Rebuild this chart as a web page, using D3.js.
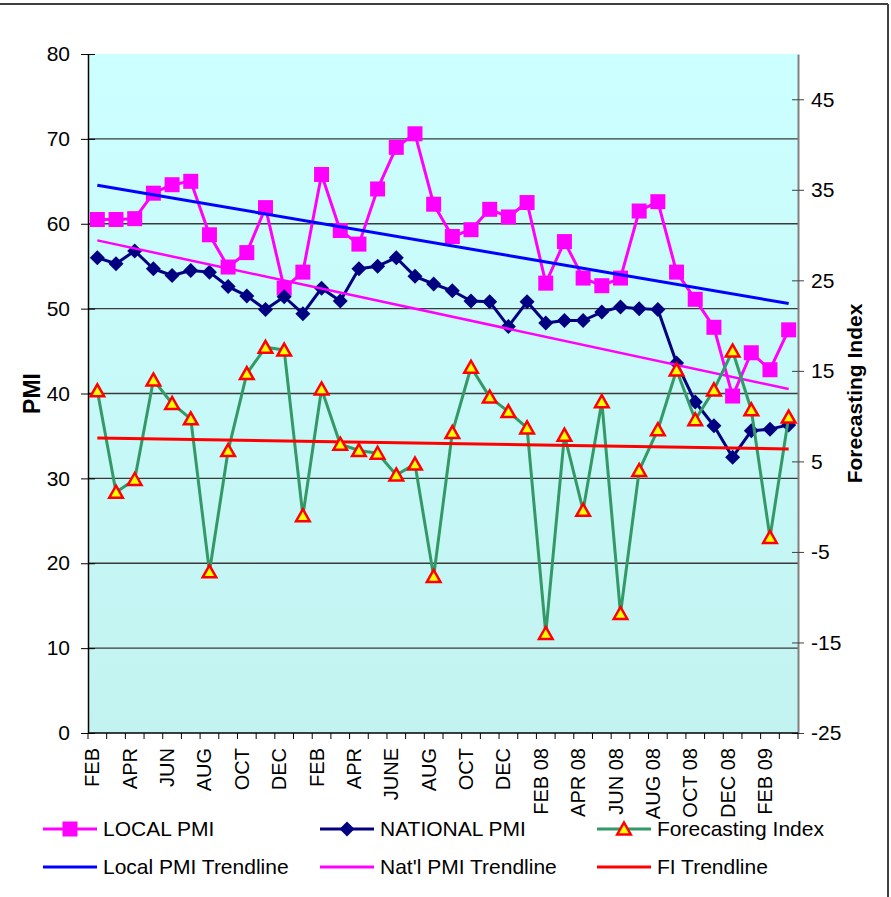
<!DOCTYPE html>
<html>
<head>
<meta charset="utf-8">
<script src="https://cdn.jsdelivr.net/npm/d3@7"></script>
<style>
html,body{margin:0;padding:0;background:#fff;}
svg{display:block;font-family:"Liberation Sans",Arial,sans-serif;}
</style>
</head>
<body>
<svg id="chart" width="891" height="897"></svg>
<script>
// ---------- DATA ----------
const categories = ["FEB","MAR","APR","MAY","JUN","JUL","AUG","SEP","OCT","NOV","DEC","JAN",
  "FEB","MAR","APR","MAY","JUNE","JUL","AUG","SEP","OCT","NOV","DEC","JAN",
  "FEB 08","MAR 08","APR 08","MAY 08","JUN 08","JUL 08","AUG 08","SEP 08","OCT 08","NOV 08","DEC 08","JAN 09",
  "FEB 09","MAR 09"];
const localPMI = [60.5,60.5,60.6,63.6,64.6,65.0,58.7,54.9,56.6,61.9,52.4,54.3,
  65.8,59.2,57.6,64.1,69.0,70.6,62.3,58.5,59.3,61.7,60.8,62.5,
  53.0,57.9,53.6,52.7,53.6,61.5,62.6,54.3,51.1,47.8,39.7,44.8,42.8,47.5];
const nationalPMI = [56.0,55.3,56.8,54.7,53.9,54.5,54.3,52.6,51.5,49.9,51.4,49.4,
  52.4,50.9,54.7,55.0,56.0,53.8,52.9,52.1,50.9,50.8,47.9,50.8,
  48.3,48.6,48.6,49.6,50.2,50.0,49.9,43.6,39.0,36.2,32.5,35.6,35.8,36.3];
const forecastingIndex = [12.8,1.6,3.0,14.0,11.4,9.7,-7.2,6.2,14.7,17.6,17.3,-1.0,
  13.0,6.9,6.2,5.9,3.5,4.7,-7.7,8.2,15.4,12.1,10.5,8.7,
  -14.0,7.9,-0.4,11.6,-11.8,4.0,8.5,15.1,9.6,12.9,17.2,10.7,-3.4,9.9];
const leftTicks = [0,10,20,30,40,50,60,70,80];
const rightTicks = [-25,-15,-5,5,15,25,35,45];

// ---------- LAYOUT ----------
const svg = d3.select("#chart");
const X0 = 88, X1 = 798, Y0 = 54, Y1 = 733;

const x = d3.scaleBand().domain(d3.range(categories.length)).range([X0, X1]);
const cx = i => x(i) + x.bandwidth() / 2;
const yL = d3.scaleLinear().domain([0, 80]).range([Y1, Y0]);
const yR = d3.scaleLinear().domain([-25, 50]).range([Y1, Y0]);

// linear regression (Excel linear trendline)
function trend(vals) {
  const n = vals.length, xs = d3.range(1, n + 1);
  const mx = d3.mean(xs), my = d3.mean(vals);
  let sxy = 0, sxx = 0;
  xs.forEach((xv, k) => { sxy += (xv - mx) * (vals[k] - my); sxx += (xv - mx) * (xv - mx); });
  const b = sxy / sxx, a = my - b * mx;
  return [{i: 0, v: a + b * 1}, {i: n - 1, v: a + b * n}];
}

// frame
svg.append("line").attr("x1", 0).attr("x2", 888).attr("y1", 4).attr("y2", 4)
  .attr("stroke", "#000").attr("stroke-width", 1.5);
svg.append("line").attr("x1", 888).attr("x2", 888).attr("y1", 4).attr("y2", 897)
  .attr("stroke", "#404040").attr("stroke-width", 2);

// plot background
const defs = svg.append("defs");
const grad = defs.append("linearGradient").attr("id", "bg").attr("x1", 0).attr("x2", 0).attr("y1", 0).attr("y2", 1);
grad.append("stop").attr("offset", "0%").attr("stop-color", "#CCFFFF");
grad.append("stop").attr("offset", "100%").attr("stop-color", "#C2F3F1");
svg.append("rect").attr("x", X0).attr("y", Y0).attr("width", X1 - X0).attr("height", Y1 - Y0)
  .attr("fill", "url(#bg)");

// gridlines
svg.append("g").selectAll("line").data(leftTicks.filter(t => t > 0 && t < 80)).join("line")
  .attr("x1", X0).attr("x2", X1).attr("y1", d => yL(d)).attr("y2", d => yL(d))
  .attr("stroke", "#3a3a3a").attr("stroke-width", 1.4);

const fmt = d => String(d);

// left axis
const gL = svg.append("g").attr("transform", `translate(${X0},0)`)
  .call(d3.axisLeft(yL).tickValues(leftTicks).tickFormat(fmt).tickSizeInner(7).tickSizeOuter(0).tickPadding(11));
gL.select(".domain").attr("stroke", "#000").attr("stroke-width", 1.5);
gL.selectAll(".tick line").attr("x1", -7).attr("x2", 7).attr("stroke", "#000");
gL.selectAll(".tick text").attr("font-size", 21).attr("fill", "#000")
  .attr("font-family", "Liberation Sans, Arial, sans-serif");

// right axis
const gR = svg.append("g").attr("transform", `translate(${X1},0)`)
  .call(d3.axisRight(yR).tickValues(rightTicks).tickFormat(fmt).tickSizeInner(6).tickSizeOuter(0).tickPadding(7));
gR.select(".domain").attr("stroke", "#808080").attr("stroke-width", 2);
gR.selectAll(".tick line").attr("x1", -6).attr("x2", 6).attr("stroke", "#404040");
gR.selectAll(".tick text").attr("font-size", 21).attr("fill", "#000")
  .attr("font-family", "Liberation Sans, Arial, sans-serif");

// bottom axis
const gB = svg.append("g").attr("transform", `translate(0,${Y1})`);
gB.append("line").attr("x1", X0).attr("x2", X1).attr("y1", 0).attr("y2", 0)
  .attr("stroke", "#000").attr("stroke-width", 1.5);
const bounds = d3.range(categories.length + 1).map(i => i < categories.length ? x(i) : X1);
gB.selectAll("line.t").data(bounds).join("line").attr("class", "t")
  .attr("x1", d => d).attr("x2", d => d).attr("y1", 0).attr("y2", 6)
  .attr("stroke", "#000").attr("stroke-width", 1);
gB.selectAll("text").data(categories.map((c, i) => ({c, i})).filter(d => d.i % 2 === 0)).join("text")
  .attr("transform", d => `translate(${cx(d.i) - 5},15) rotate(-90)`)
  .attr("text-anchor", "end").attr("dy", "0.35em")
  .attr("font-size", 20).attr("fill", "#000").text(d => d.c);

// axis titles
svg.append("text").attr("transform", `translate(32,${(Y0 + Y1) / 2}) rotate(-90)`)
  .attr("text-anchor", "middle").attr("dy", "0.35em").attr("font-size", 23).attr("font-weight", "bold")
  .text("PMI");
svg.append("text").attr("transform", `translate(855,${(Y0 + Y1) / 2}) rotate(-90)`)
  .attr("text-anchor", "middle").attr("dy", "0.35em").attr("font-size", 21).attr("font-weight", "bold")
  .text("Forecasting Index");

// markers
const sqPath = "M-7.5,-7.5H7.5V7.5H-7.5Z";
const diaPath = "M0,-7.5L7.5,0L0,7.5L-7.5,0Z";
const triPath = "M0,-6.5L6.8,5.5L-6.8,5.5Z";

const line = (yS) => d3.line().x((d, i) => cx(i)).y(d => yS(d));

// Local PMI
svg.append("path").datum(localPMI).attr("d", line(yL)).attr("fill", "none")
  .attr("stroke", "#FF00FF").attr("stroke-width", 3).attr("stroke-linejoin", "round");
svg.append("g").selectAll("path").data(localPMI).join("path")
  .attr("d", sqPath).attr("transform", (d, i) => `translate(${cx(i)},${yL(d)})`).attr("fill", "#FF00FF");

// National PMI
svg.append("path").datum(nationalPMI).attr("d", line(yL)).attr("fill", "none")
  .attr("stroke", "#000080").attr("stroke-width", 3).attr("stroke-linejoin", "round");
svg.append("g").selectAll("path").data(nationalPMI).join("path")
  .attr("d", diaPath).attr("transform", (d, i) => `translate(${cx(i)},${yL(d)})`).attr("fill", "#000080");

// trendlines (primary)
svg.append("path").datum(trend(localPMI)).attr("d", d3.line().x(d => cx(d.i)).y(d => yL(d.v))).attr("fill", "none")
  .attr("stroke", "#0000FF").attr("stroke-width", 3);
svg.append("path").datum(trend(nationalPMI)).attr("d", d3.line().x(d => cx(d.i)).y(d => yL(d.v))).attr("fill", "none")
  .attr("stroke", "#FF00FF").attr("stroke-width", 2.5);

// FI
svg.append("path").datum(forecastingIndex).attr("d", line(yR)).attr("fill", "none")
  .attr("stroke", "#339966").attr("stroke-width", 3).attr("stroke-linejoin", "round");
svg.append("path").datum(trend(forecastingIndex)).attr("d", d3.line().x(d => cx(d.i)).y(d => yR(d.v))).attr("fill", "none")
  .attr("stroke", "#FF0000").attr("stroke-width", 3);
svg.append("g").selectAll("path").data(forecastingIndex).join("path")
  .attr("d", triPath).attr("transform", (d, i) => `translate(${cx(i)},${yR(d)})`)
  .attr("fill", "#FFFF00").attr("stroke", "#FF0000").attr("stroke-width", 2.5).attr("stroke-linejoin", "miter");

// legend
const legendItems = [
  {label: "LOCAL PMI", color: "#FF00FF", w: 3, marker: sqPath, fill: "#FF00FF", col: 0, row: 0},
  {label: "NATIONAL PMI", color: "#000080", w: 3, marker: diaPath, fill: "#000080", col: 1, row: 0},
  {label: "Forecasting Index", color: "#339966", w: 3, marker: triPath, fill: "#FFFF00", stroke: "#FF0000", col: 2, row: 0},
  {label: "Local PMI Trendline", color: "#0000FF", w: 3, col: 0, row: 1},
  {label: "Nat'l PMI Trendline", color: "#FF00FF", w: 3, col: 1, row: 1},
  {label: "FI Trendline", color: "#FF0000", w: 3, col: 2, row: 1}
];
const colX = [43, 320, 597], rowY = [829, 867];
const lg = svg.append("g").selectAll("g").data(legendItems).join("g")
  .attr("transform", d => `translate(${colX[d.col]},${rowY[d.row]})`);
lg.append("line").attr("x1", 0).attr("x2", 54).attr("y1", 0).attr("y2", 0)
  .attr("stroke", d => d.color).attr("stroke-width", d => d.w);
lg.filter(d => d.marker).append("path").attr("d", d => d.marker).attr("transform", "translate(27,0)")
  .attr("fill", d => d.fill).attr("stroke", d => d.stroke || "none").attr("stroke-width", 2.5);
lg.append("text").attr("x", 60).attr("dy", "0.35em").attr("font-size", 21).attr("fill", "#000").text(d => d.label);
</script>
</body>
</html>
